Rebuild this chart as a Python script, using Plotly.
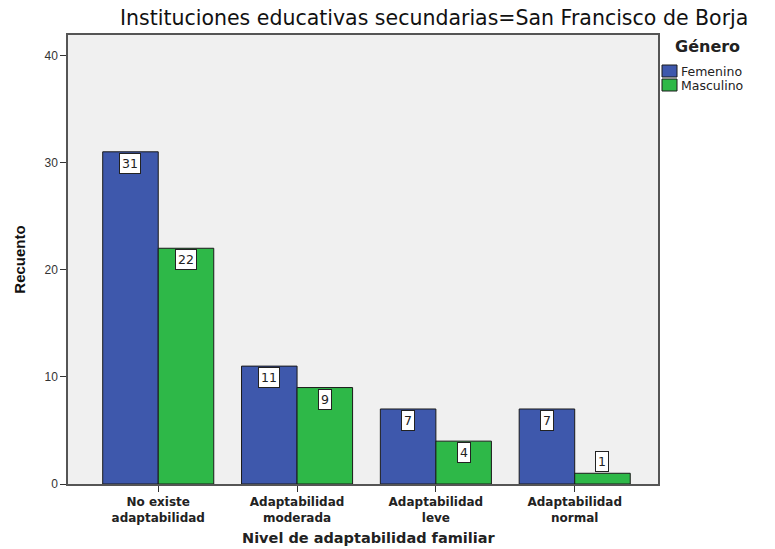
import plotly.graph_objects as go

categories = ["No existe<br>adaptabilidad", "Adaptabilidad<br>moderada", "Adaptabilidad<br>leve", "Adaptabilidad<br>normal"]
femenino = [31, 11, 7, 7]
masculino = [22, 9, 4, 1]
series_names = ["Femenino", "Masculino"]
colors = ["#3E58AC", "#2EB848"]
y_ticks = [0, 10, 20, 30, 40]

xpos = list(range(len(categories)))
ARIAL = "Liberation Sans, Arial, sans-serif"
WIDE = "DejaVu Sans, Verdana, sans-serif"

# figure is offset 8px by the page body margin
W, H = 767, 541
ML, MR, MT, MB = 60, 117, 27, 65
PW, PH = W - ML - MR, H - MT - MB


def px_x(px):
    return (px - 8 - ML) / PW


def px_y(py):
    return (8 + MT + PH - py) / PH


fig = go.Figure()
for name, vals, col in zip(series_names, [femenino, masculino], colors):
    fig.add_trace(go.Bar(
        x=xpos, y=vals, name=name, showlegend=False,
        marker=dict(color=col, line=dict(color="#1a1a1a", width=1)),
        hoverinfo="skip",
    ))

annotations = []
for vals, off in [(femenino, -0.2), (masculino, 0.2)]:
    for i, v in enumerate(vals):
        small = v < 3
        annotations.append(dict(
            x=i + off, y=v, xref="x", yref="y", text=str(v),
            showarrow=False, yanchor="bottom" if small else "top",
            yshift=1 if small else -1,
            bgcolor="white", bordercolor="#222", borderwidth=1, borderpad=2,
            font=dict(family=WIDE, size=12.5, color="#222"),
        ))

# legend drawn manually to match compact SPSS layout
shapes = []
legend_rows = [(65, 77, 71), (79, 91, 85)]
for (top, bot, ty), name, col in zip(legend_rows, series_names, colors):
    shapes.append(dict(type="rect", xref="paper", yref="paper",
                       x0=px_x(662), x1=px_x(677), y0=px_y(bot), y1=px_y(top),
                       fillcolor=col, line=dict(color="#1a1a1a", width=1)))
    annotations.append(dict(x=px_x(680), y=px_y(ty), xref="paper", yref="paper",
                            text=name, showarrow=False, xanchor="left", yanchor="middle",
                            borderpad=0,
                            font=dict(family=WIDE, size=12.5, color="#222")))
annotations.append(dict(x=px_x(673), y=px_y(46), xref="paper", yref="paper",
                        text="<b>Género</b>", showarrow=False, xanchor="left", yanchor="middle",
                        font=dict(family=WIDE, size=16, color="#222")))
# x-axis title
annotations.append(dict(x=px_x(368), y=px_y(538), xref="paper", yref="paper",
                        text="<b>Nivel de adaptabilidad familiar</b>", showarrow=False,
                        xanchor="center", yanchor="middle",
                        font=dict(family=WIDE, size=14.5, color="#222")))
# chart title
annotations.append(dict(x=px_x(434), y=px_y(18), xref="paper", yref="paper",
                        text="Instituciones educativas secundarias=San Francisco de Borja",
                        showarrow=False, xanchor="center", yanchor="middle",
                        font=dict(family=WIDE, size=20.5, color="#111")))

fig.update_layout(
    width=W, height=H,
    paper_bgcolor="white", plot_bgcolor="#F0F0F0",
    margin=dict(l=ML, r=MR, t=MT, b=MB, autoexpand=False),
    barmode="group", bargap=0.2, bargroupgap=0,
    font=dict(family=ARIAL, color="#222"),
    showlegend=False,
    annotations=annotations,
    shapes=shapes,
)
fig.update_xaxes(
    range=[-0.65, 3.6], tickmode="array", tickvals=xpos,
    ticktext=["<b>" + c + "</b>" for c in categories],
    tickfont=dict(family=WIDE, size=12, color="#222"),
    ticks="outside", ticklen=6, tickcolor="#333",
    showline=True, linecolor="#555", linewidth=1.5, mirror=True,
    showgrid=False, zeroline=False, automargin=False,
)
fig.update_yaxes(
    range=[0, 41.9], tickmode="array", tickvals=y_ticks,
    tickfont=dict(family=ARIAL, size=12, color="#333"),
    ticks="outside", ticklen=6, tickcolor="#333",
    showline=True, linecolor="#555", linewidth=1.5, mirror=True,
    showgrid=False, zeroline=False, automargin=False,
    title=dict(text="<b>Recuento</b>", font=dict(family=ARIAL, size=15, color="#111")),
)

fig.write_html("out.html")
